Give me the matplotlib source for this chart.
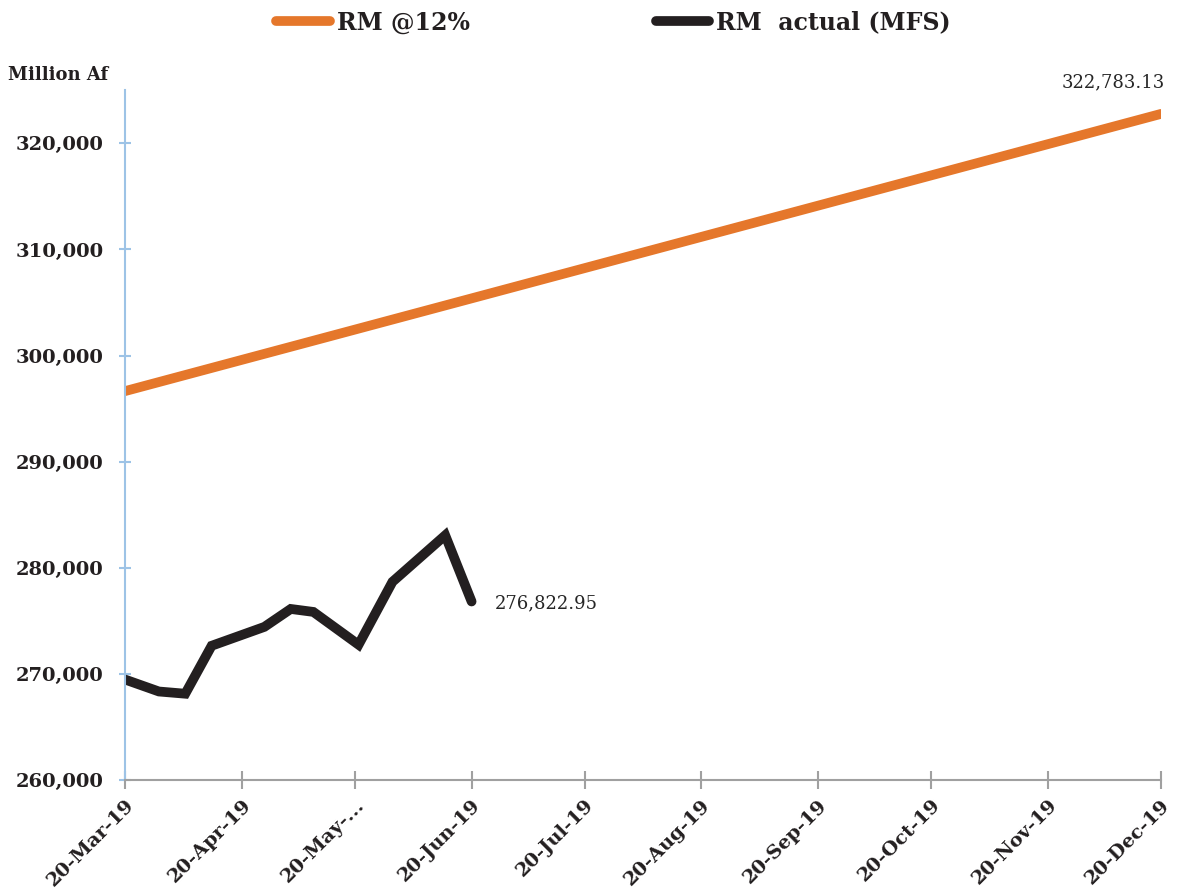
import matplotlib.pyplot as plt
import pandas as pd

# RM @12% target path (straight line start -> end)
target_dates = ["2019-03-20", "2019-12-20"]
target_values = [296650, 322783.13]

# RM actual (MFS)
actual_dates = ["2019-03-20", "2019-03-29", "2019-04-05", "2019-04-12", "2019-04-26",
                "2019-05-03", "2019-05-09", "2019-05-21", "2019-05-30", "2019-06-13",
                "2019-06-20"]
actual_values = [269470, 268340, 268130, 272650, 274430,
                 276120, 275840, 272750, 278680, 283060,
                 276822.95]

tick_dates = ["2019-03-20", "2019-04-20", "2019-05-20", "2019-06-20", "2019-07-20",
              "2019-08-20", "2019-09-20", "2019-10-20", "2019-11-20", "2019-12-20"]
tick_labels = ["20-Mar-19", "20-Apr-19", "20-May-...", "20-Jun-19", "20-Jul-19",
               "20-Aug-19", "20-Sep-19", "20-Oct-19", "20-Nov-19", "20-Dec-19"]
y_ticks = [260000, 270000, 280000, 290000, 300000, 310000, 320000]

td = pd.to_datetime(target_dates)
ad = pd.to_datetime(actual_dates)
xt = pd.to_datetime(tick_dates)

serif = ["DejaVu Serif"]
plt.rcParams["font.family"] = serif
txt = "#231F20"

fig = plt.figure(figsize=(11.78, 8.91), dpi=100)
ax = fig.add_axes([0.1061, 0.1246, 0.8795, 0.774])

ax.plot(td, target_values, color="#E5772B", lw=7, solid_capstyle="round",
        label="RM @12%")
ax.plot(ad, actual_values, color=txt, lw=7, solid_capstyle="round",
        solid_joinstyle="miter", label="RM  actual (MFS)")

ax.set_xlim(xt[0], xt[-1])
ax.set_ylim(260000, 325000)
ax.set_xticks(xt)
ax.set_xticklabels(tick_labels, rotation=45, ha="right", rotation_mode="anchor",
                   fontsize=14, fontweight="bold", color=txt)
ax.set_yticks(y_ticks)
ax.set_yticklabels([f"{v:,}" for v in y_ticks], fontsize=14,
                   fontweight="bold", color=txt)

for s in ["top", "right"]:
    ax.spines[s].set_visible(False)
ax.spines["left"].set_color("#9DC3E6")
ax.spines["left"].set_linewidth(1.5)
ax.spines["bottom"].set_color("#A0A0A0")
ax.spines["bottom"].set_linewidth(1.5)
ax.tick_params(axis="y", direction="inout", length=9, width=1.5, color="#9DC3E6", pad=11)
ax.tick_params(axis="x", direction="inout", length=13, width=1.5, color="#A0A0A0", pad=5)

# data labels
ax.annotate(f"{target_values[-1]:,.2f}", (td[-1], target_values[-1]),
            xytext=(3, 23), textcoords="offset points", ha="right", va="center",
            fontsize=13, color="#262626")
ax.annotate(f"{actual_values[-1]:,.2f}", (ad[-1], actual_values[-1]),
            xytext=(17, -1), textcoords="offset points", ha="left", va="center",
            fontsize=13, color="#262626")

fig.text(0.007, 0.916, "Million Af", fontsize=13, fontweight="bold",
         color=txt, ha="left", va="center")

leg = fig.legend(loc="center", bbox_to_anchor=(0.521, 0.975), ncol=2, frameon=False,
                 prop={"weight": "bold", "size": 17, "family": serif},
                 handlelength=2.25, handletextpad=0.3, columnspacing=7.9)
for t in leg.get_texts():
    t.set_color(txt)

fig.savefig("out.png", dpi=100)
